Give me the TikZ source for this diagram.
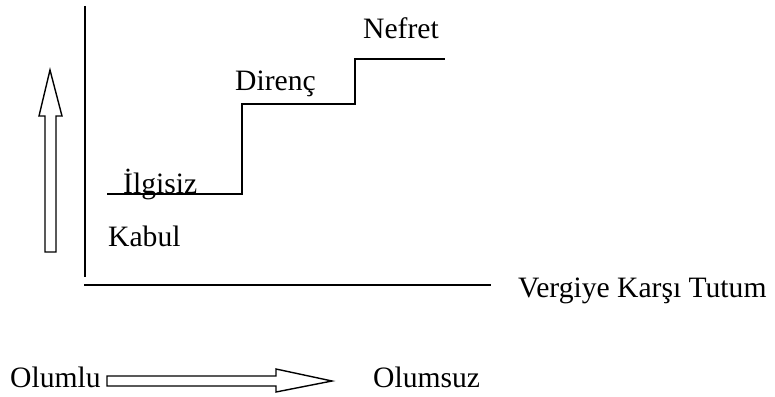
\documentclass[tikz,border=0pt]{standalone}
\usepackage{fontspec}
\setmainfont{Liberation Serif}
\newcommand{\lblfont}{\fontsize{29.6}{34}\selectfont}

\begin{document}
\begin{tikzpicture}[
    x=1pt, y=-1pt,
    lbl/.style={anchor=base west, inner sep=0pt, font=\lblfont},
    axis/.style={line width=1.8pt},
    stair/.style={line width=1.8pt},
    hollow/.style={draw, line width=1.4pt, fill=white, line join=miter}
]
    \useasboundingbox (0,0) rectangle (775,396);

    % axes
    \coordinate (ytop) at (85,6);
    \coordinate (ybot) at (85,277);
    \coordinate (xleft) at (84,285);
    \coordinate (xright) at (491,285);
    \draw[axis] (ytop) -- (ybot);
    \draw[axis] (xleft) -- (xright);

    % stairs
    \coordinate (s0) at (107,194);
    \coordinate (s1) at (242,194);
    \coordinate (s2) at (242,104);
    \coordinate (s3) at (355,104);
    \coordinate (s4) at (355,59);
    \coordinate (s5) at (445,59);
    \draw[stair] (s0) -- (s1) -- (s2) -- (s3) -- (s4) -- (s5);

    % labels
    \node[lbl] (kabul) at (108,246) {Kabul};
    \node[lbl] (ilgisiz) at (123,193) {İlgisiz};
    \node[lbl] (direnc) at (235,90) {Direnç};
    \node[lbl] (nefret) at (363,38) {Nefret};
    \node[lbl] (tutum) at (518,297) {Vergiye Karşı Tutum};
    \node[lbl] (olumlu) at (10,387) {Olumlu};
    \node[lbl] (olumsuz) at (373,387) {Olumsuz};

    % hollow arrows
    \draw[hollow] (45,252) -- (45,116) -- (39,116) -- (50,70) -- (62,116)
        -- (56,116) -- (56,252) -- cycle;
    \draw[hollow] (107,376) -- (276,376) -- (276,369) -- (332,381) -- (276,392)
        -- (276,386) -- (107,386) -- cycle;
\end{tikzpicture}
\end{document}
